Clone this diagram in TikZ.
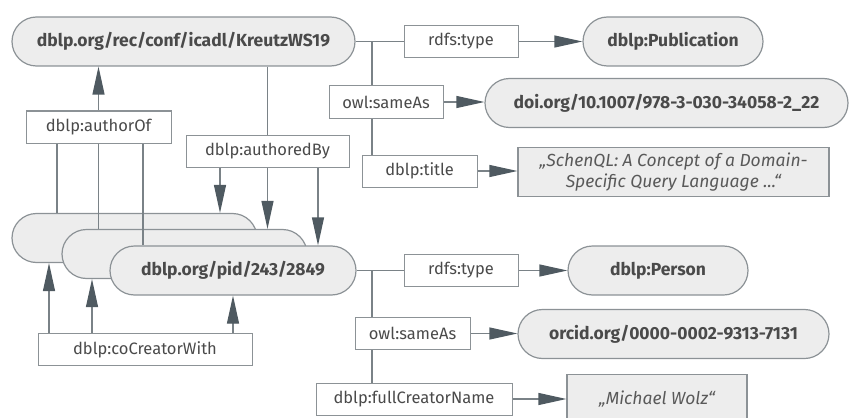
\documentclass[tikz,border=0pt]{standalone}
\usepackage{fontspec}
\setmainfont{Fira Sans}
\usetikzlibrary{arrows.meta}
\definecolor{linec}{HTML}{7A8287}
\definecolor{tipc}{HTML}{4F5A61}
\definecolor{pillfill}{HTML}{EDEDED}
\definecolor{pilldraw}{HTML}{8C9296}
\definecolor{txt}{HTML}{4A4A4A}
\definecolor{littxt}{HTML}{595959}
\pgfdeclarelayer{back}
\pgfdeclarelayer{mid}
\pgfsetlayers{back,mid,main}
\begin{document}
\begin{tikzpicture}[x=1pt,y=-1pt,
  pill/.style={rectangle, rounded corners=24.5pt, fill=pillfill, draw=pilldraw, line width=1.2pt, minimum height=49pt, inner sep=0pt, font=\bfseries\fontsize{17.5}{20}\selectfont, text=txt},
  lbl/.style={rectangle, fill=white, draw=pilldraw, line width=1pt, minimum height=32pt, inner sep=0pt, font=\fontsize{16.5}{19}\selectfont, text=txt},
  lit/.style={rectangle, fill=pillfill, draw=pilldraw, line width=1.2pt, inner sep=0pt, minimum height=49pt, align=center, font=\itshape\fontsize{17.5}{21}\selectfont, text=littxt},
  conn/.style={draw=linec, line width=1.2pt},
  arr/.style={conn, -{Triangle[length=28pt,width=12pt,color=tipc]}}]
\useasboundingbox (0,0) rectangle (850,417);
\clip (0,0) rectangle (850,417);
% pills
\begin{pgfonlayer}{back}
\node[pill, minimum width=343pt] (pub) at (183.5,41.5) {dblp.org/rec/conf/icadl/KreutzWS19};
\node[pill, minimum width=180pt] (pubcls) at (673,41.5) {dblp:Publication};
\node[pill, minimum width=363pt] (doi) at (666.5,103) {doi.org/10.1007/978-3-030-34058-2\_22};
\node[lit, minimum width=311pt] (tlit) at (673.5,172) {„SchenQL: A Concept of a Domain-\\Specific Query Language ...“};
\node[pill, minimum width=245pt] (p1) at (134.5,238) {};
\node[pill, minimum width=245pt] (p2) at (184.5,254) {};
\node[pill, minimum width=246pt] (pid) at (233,270.5) {dblp.org/pid/243/2849};
\node[pill, minimum width=180pt] (person) at (658,270.5) {dblp:Person};
\node[pill, minimum width=311pt] (orcid) at (673.5,334) {orcid.org/0000-0002-9313-7131};
\node[lit, minimum width=180pt] (wolz) at (657,399) {„Michael Wolz“};
\end{pgfonlayer}
% labels
\node[lbl, minimum width=114pt] (type1) at (461,41.5) {rdfs:type};
\node[lbl, minimum width=114pt] (same1) at (386,102) {owl:sameAs};
\node[lbl, minimum width=115pt] (title) at (419.5,171) {dblp:title};
\node[lbl, minimum width=145pt] (aof) at (98.5,127) {dblp:authorOf};
\node[lbl, minimum width=163pt] (aby) at (267.5,151) {dblp:authoredBy};
\node[lbl, minimum width=214pt] (co) at (145,349.5) {dblp:coCreatorWith};
\node[lbl, minimum width=114pt] (type2) at (461,270.5) {rdfs:type};
\node[lbl, minimum width=115pt] (same2) at (412.5,333.5) {owl:sameAs};
\node[lbl, minimum width=196pt] (fcn) at (414,399) {dblp:fullCreatorName};
% coordinates for vertical connectors
\coordinate (bx) at (372,0);
\coordinate (x57) at (57,0);
\coordinate (x143) at (143,0);
\coordinate (x220) at (220,0);
\coordinate (x318) at (318,0);
\coordinate (x49) at (49,0);
\coordinate (x92) at (92,0);
\coordinate (x233) at (233,0);
\begin{pgfonlayer}{mid}
% publication side
\draw[conn] (pub.east) -- (type1.west);
\draw[conn] (pub.east -| bx) -- (title.north -| bx);
\draw[arr] (type1.east) -- (pubcls.west);
\draw[arr] (same1.east) -- (same1.east -| doi.west);
\draw[arr] (title.east) -- (title.east -| tlit.west);
% authorOf
\draw[arr] (aof.north) -- (aof.north |- pub.south);
\draw[conn] (aof.south -| x57) -- (p1.north -| x57);
\draw[conn] (aof.south) -- (p2.north -| aof.south);
\draw[conn] (aof.south -| x143) -- (pid.north -| x143);
% authoredBy
\draw[conn] (pub.south -| aby.north) -- (aby.north);
\draw[arr] (aby.south -| x220) -- (p1.north -| x220);
\draw[arr] (aby.south) -- (p2.north -| aby.south);
\draw[arr] (aby.south -| x318) -- (pid.north -| x318);
% coCreatorWith
\draw[arr] (co.north -| x49) -- (p1.south -| x49);
\draw[arr] (co.north -| x92) -- (p2.south -| x92);
\draw[arr] (co.north -| x233) -- (pid.south -| x233);
% person side
\draw[conn] (pid.east) -- (type2.west);
\draw[conn] (pid.east -| bx) -- (fcn.north -| bx);
\draw[arr] (type2.east) -- (person.west);
\draw[arr] (same2.east) -- (same2.east -| orcid.west);
\draw[arr] (fcn.east) -- (fcn.east -| wolz.west);
\end{pgfonlayer}
\end{tikzpicture}
\end{document}
